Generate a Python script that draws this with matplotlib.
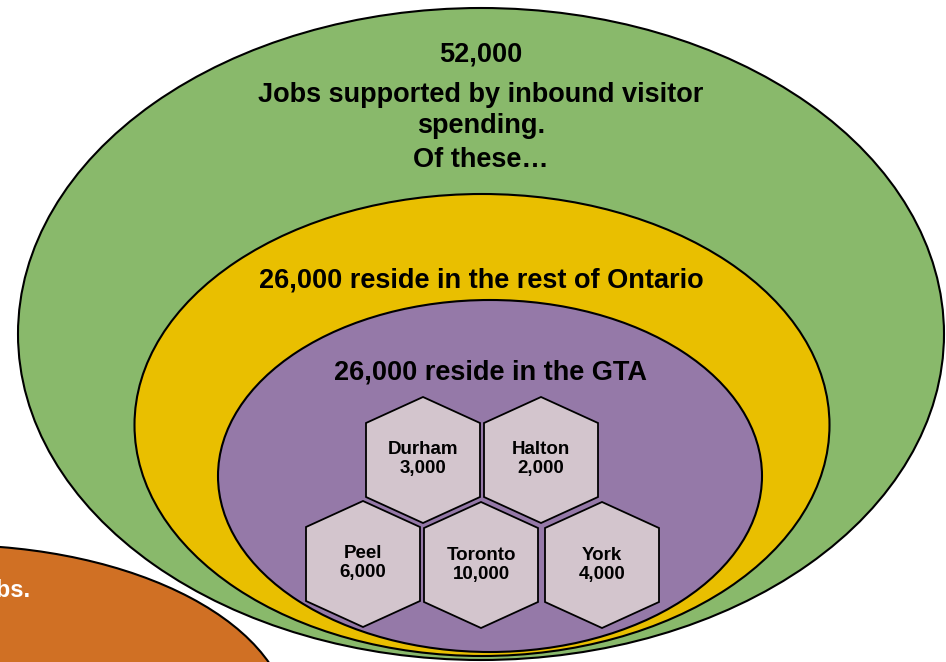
import matplotlib
matplotlib.use("Agg")
import matplotlib.pyplot as plt
from matplotlib.patches import Ellipse, Polygon

plt.rcParams['font.family'] = ['Liberation Sans', 'DejaVu Sans']

# ---- data ----
total_jobs = "52,000"
rest_of_ontario = "26,000"
gta_jobs = "26,000"
regions = ["Durham", "Halton", "Peel", "Toronto", "York"]
region_jobs = ["3,000", "2,000", "6,000", "10,000", "4,000"]

# ---- layout (pixel coordinates) ----
hex_centers = [(423, 460), (541, 460), (363, 564), (481, 565), (602, 565)]

fig = plt.figure(figsize=(9.46, 6.62), dpi=100)
ax = fig.add_axes([0, 0, 1, 1])
ax.set_xlim(0, 946)
ax.set_ylim(662, 0)
ax.axis('off')

green = '#89B96B'
yellow = '#E9BF00'
purple = '#9579A8'
orange = '#D07024'
hexfill = '#D3C5CD'

ax.add_patch(Ellipse((481, 334), 926, 652, facecolor=green, edgecolor='black', lw=1.5, zorder=1))
ax.add_patch(Ellipse((482, 425), 695, 462, facecolor=yellow, edgecolor='black', lw=1.5, zorder=2))
ax.add_patch(Ellipse((490, 476), 544, 352, facecolor=purple, edgecolor='black', lw=1.5, zorder=3))
ax.add_patch(Ellipse((-50, 725), 680, 360, facecolor=orange, edgecolor='black', lw=1.5, zorder=4))
ax.text(30, 591, "jobs.", ha='right', va='center', fontsize=17, fontweight='bold', color='white', zorder=5)

fs = 19.5
ax.text(481, 55, total_jobs, ha='center', va='center', fontsize=fs, fontweight='bold', zorder=6)
ax.text(481, 95, "Jobs supported by inbound visitor", ha='center', va='center', fontsize=fs, fontweight='bold', zorder=6)
ax.text(481, 126, "spending.", ha='center', va='center', fontsize=fs, fontweight='bold', zorder=6)
ax.text(481, 160, "Of these…", ha='center', va='center', fontsize=fs, fontweight='bold', zorder=6)
ax.text(481, 280, f"{rest_of_ontario} reside in the rest of Ontario", ha='center', va='center',
        fontsize=fs, fontweight='bold', zorder=6)
ax.text(490, 373, f"{gta_jobs} reside in the GTA", ha='center', va='center',
        fontsize=fs, fontweight='bold', zorder=6)

hw, hh, hs = 57, 63, 37
for (cx, cy), name, val in zip(hex_centers, regions, region_jobs):
    pts = [(cx, cy - hh), (cx + hw, cy - hs), (cx + hw, cy + hs),
           (cx, cy + hh), (cx - hw, cy + hs), (cx - hw, cy - hs)]
    ax.add_patch(Polygon(pts, closed=True, facecolor=hexfill, edgecolor='black', lw=1.3, zorder=7))
    ax.text(cx, cy - 10, name, ha='center', va='center', fontsize=13.5, fontweight='bold', zorder=8)
    ax.text(cx, cy + 9, val, ha='center', va='center', fontsize=13.5, fontweight='bold', zorder=8)

fig.savefig("out.png", dpi=100)
